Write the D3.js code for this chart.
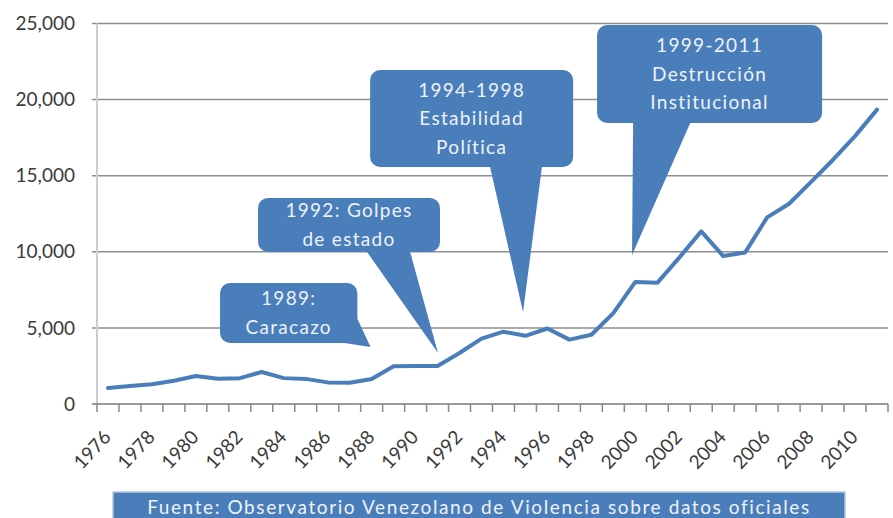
<!DOCTYPE html>
<html><head><meta charset="utf-8">
<script src="https://cdn.jsdelivr.net/npm/d3@7"></script>
<style>
html,body{margin:0;padding:0;background:#fff;}
svg{display:block;font-family:Lato,"Open Sans",sans-serif;}
</style></head>
<body>
<svg id="chart" width="893" height="518"></svg>
<script>
// ---- data ----
const years = d3.range(1976, 2012);
const homicides = [1050,1180,1300,1530,1840,1660,1700,2100,1700,1650,1420,1400,1640,2480,2500,2500,3350,4300,4750,4480,4960,4230,4550,5970,8020,7960,9620,11340,9720,9960,12260,13160,14590,16050,17600,19340];
const yTicks = [0,5000,10000,15000,20000,25000];
const xLabelYears = [1976,1978,1980,1982,1984,1986,1988,1990,1992,1994,1996,1998,2000,2002,2004,2006,2008,2010];
const calloutLines = [["1989:","Caracazo"],["1992: Golpes","de estado"],["1994-1998","Estabilidad","Política"],["1999-2011","Destrucción","Institucional"]];
// callout geometry in data units: box [yearLeft, yearRight, valueBottom, valueTop], tip [year, value], pointer base
const calloutBox = [[1981.1,1987.35,4010,7950],[1982.83,1991.11,9990,13540],[1987.93,1997.17,15570,21945],[1998.26,2008.5,18460,24900]];
const calloutTip = [[1987.95,3750],[1991.02,3350],[1994.89,6045],[1999.85,9790]];
const calloutBase = [[[1987.35,5600],[1986.75,4010]],[[1987.79,9990],[1989.75,9990]],[[1993.39,15570],[1995.75,15570]],[[1999.9,18460],[2002.5,18460]]];
const sourceText = "Fuente: Observatorio Venezolano de Violencia sobre datos oficiales";

// ---- layout ----
const W = 893, H = 518;
const plot = {left:97, right:888, top:23.5, bottom:404};
const blue = "#4a7ebb";
const svg = d3.select("#chart");
svg.append("rect").attr("width",W).attr("height",H).attr("fill","#fff");

const x = d3.scaleBand().domain(years).range([plot.left, plot.right]).padding(0);
const y = d3.scaleLinear().domain([0,25000]).range([plot.bottom, plot.top]);
const xc = yr => x(years[0]) + (yr - years[0] + 0.5) * x.step();

// gridlines
svg.append("g").selectAll("line").data(yTicks.filter(d=>d>0)).join("line")
  .attr("x1", plot.left-5).attr("x2", plot.right)
  .attr("y1", d=>y(d)).attr("y2", d=>y(d))
  .attr("stroke","#8e8e8e").attr("stroke-width",1.5);

// y axis line
svg.append("line").attr("x1",plot.left).attr("x2",plot.left)
  .attr("y1",plot.top).attr("y2",plot.bottom)
  .attr("stroke","#c9ced8").attr("stroke-width",2);

// y labels
svg.append("g").selectAll("text").data(yTicks).join("text")
  .attr("x", 75).attr("y", d=>y(d)).attr("dy","0.35em")
  .attr("text-anchor","end").attr("font-size",19).attr("fill","#3a3a3a")
  .text(d3.format(","));

// x axis
svg.append("line").attr("x1",plot.left-5).attr("x2",plot.right)
  .attr("y1",plot.bottom).attr("y2",plot.bottom)
  .attr("stroke","#7a7a7a").attr("stroke-width",1.5);
const bounds = years.map(d=>x(d)).concat([x(years[years.length-1])+x.bandwidth()]);
svg.append("g").selectAll("line").data(bounds).join("line")
  .attr("x1",d=>d).attr("x2",d=>d).attr("y1",plot.bottom).attr("y2",plot.bottom+8)
  .attr("stroke","#8a8a8a").attr("stroke-width",1.5);
svg.append("g").selectAll("text").data(xLabelYears).join("text")
  .attr("transform", d=>`translate(${x(d)+x.bandwidth()/2+4},${plot.bottom+34}) rotate(-47)`)
  .attr("text-anchor","end").attr("font-size",19).attr("fill","#3a3a3a")
  .text(d=>d);

// line
svg.append("path").datum(years.map((d,i)=>[d,homicides[i]]))
  .attr("fill","none").attr("stroke",blue).attr("stroke-width",4)
  .attr("stroke-linejoin","round").attr("stroke-linecap","round")
  .attr("d", d3.line().x(d=>x(d[0])+x.bandwidth()/2).y(d=>y(d[1])));

// callouts
const cg = svg.append("g");
calloutBox.forEach((b,i)=>{
  const x0 = xc(b[0]), x1 = xc(b[1]), y0 = y(b[3]), y1 = y(b[2]);
  const r = 10;
  const p = d3.path();
  p.moveTo(x0+r,y0); p.lineTo(x1-r,y0); p.arcTo(x1,y0,x1,y0+r,r);
  p.lineTo(x1,y1-r); p.arcTo(x1,y1,x1-r,y1,r); p.lineTo(x0+r,y1);
  p.arcTo(x0,y1,x0,y1-r,r); p.lineTo(x0,y0+r); p.arcTo(x0,y0,x0+r,y0,r); p.closePath();
  const t = calloutTip[i], bs = calloutBase[i];
  p.moveTo(xc(bs[0][0]), y(bs[0][1])); p.lineTo(xc(t[0]), y(t[1])); p.lineTo(xc(bs[1][0]), y(bs[1][1])); p.closePath();
  cg.append("path").attr("d", p.toString()).attr("fill", blue);
  const lines = calloutLines[i];
  const lh = 28.5;
  const cy = (y0+y1)/2 - (lines.length-1)*lh/2;
  const tx = cg.append("text").attr("text-anchor","middle").attr("font-size",19)
    .attr("fill","#eef2f8").attr("letter-spacing","1.3px");
  lines.forEach((l,j)=> tx.append("tspan").attr("x",(x0+x1)/2).attr("y",cy+j*lh).attr("dy","0.35em").text(l));
});

// source footer
svg.append("rect").attr("x",113).attr("y",492).attr("width",732).attr("height",30)
  .attr("fill",blue).attr("stroke","#b9c7da").attr("stroke-width",1.5);
svg.append("text").attr("x",479).attr("y",507).attr("dy","0.35em").attr("text-anchor","middle")
  .attr("font-size",19).attr("fill","#eef2f8").attr("letter-spacing","1.6px").text(sourceText);
</script>
</body></html>
